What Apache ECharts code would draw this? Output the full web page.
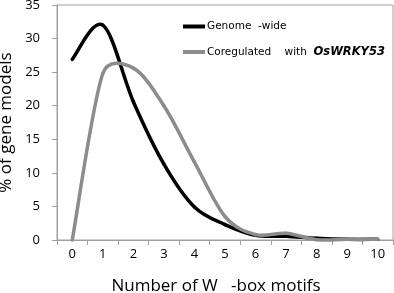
<!DOCTYPE html>
<html>
<head>
<meta charset="utf-8">
<script src="https://cdn.jsdelivr.net/npm/echarts@6/dist/echarts.min.js"></script>
<style>
html,body{margin:0;padding:0;background:#fff;}
#c{width:394px;height:293px;}
</style>
</head>
<body>
<div id="c"></div>
<script>
var categories = ['0','1','2','3','4','5','6','7','8','9','10'];
var genomeWide = [26.9, 32.0, 20.6, 11.3, 4.9, 2.3, 0.7, 0.55, 0.25, 0.1, 0.1];
var coregulated = [0, 24.8, 25.6, 20.0, 11.6, 3.5, 0.8, 1.0, 0.05, 0.1, 0.1];
var yTicks = {min: 0, max: 35, interval: 5};

var font = 'Open Sans';
var chart = echarts.init(document.getElementById('c'), null, {renderer: 'canvas'});

// Spreadsheet-style smoothed segment through library-computed coordinates
function smoothRenderer(values, color, width) {
  return function (params, api) {
    var i = params.dataIndex;
    if (i >= values.length - 1) return null;
    function pt(k) {
      k = Math.max(0, Math.min(values.length - 1, k));
      return api.coord([k, values[k]]);
    }
    function dist(a, b) { var dx = b[0] - a[0], dy = b[1] - a[1]; return Math.sqrt(dx * dx + dy * dy); }
    var p0 = pt(i - 1), p1 = pt(i), p2 = pt(i + 1), p3 = pt(i + 2);
    var d12 = dist(p1, p2), d02 = dist(p0, p2) || 1, d13 = dist(p1, p3) || 1;
    var f = Math.min(1 / 6, d12 / 2 / d02);
    var g = Math.min(1 / 6, d12 / 2 / d13);
    return {
      type: 'bezierCurve',
      shape: {
        x1: p1[0], y1: p1[1], x2: p2[0], y2: p2[1],
        cpx1: p1[0] + (p2[0] - p0[0]) * f, cpy1: p1[1] + (p2[1] - p0[1]) * f,
        cpx2: p2[0] - (p3[0] - p1[0]) * g, cpy2: p2[1] - (p3[1] - p1[1]) * g
      },
      style: {stroke: color, lineWidth: width, fill: null, lineCap: 'round'}
    };
  };
}

function toData(values) { return values.map(function (v, i) { return [i, v]; }); }

chart.setOption({
  animation: false,
  backgroundColor: '#fff',
  grid: {left: 57, right: 1, top: 5, bottom: 53, show: true, borderColor: '#a0a0a0', borderWidth: 1,
    containLabel: false, outerBoundsMode: 'none'},
  legend: {
    orient: 'vertical', left: 178, top: 16, itemGap: 14,
    icon: 'rect', itemWidth: 22, itemHeight: 4,
    textStyle: {fontFamily: 'DejaVu Sans', fontSize: 10.5, color: '#000', padding: [0, 0, 0, -3],
      rich: {b: {fontFamily: 'DejaVu Sans', fontWeight: 'bold', fontStyle: 'italic', fontSize: 11.5, color: '#000'}}},
    formatter: function (n) {
      if (n === 'Coregulated') return 'Coregulated    with  {b|OsWRKY53}';
      return 'Genome  -wide';
    },
    data: [
      {name: 'Genome-wide', itemStyle: {color: '#000'}},
      {name: 'Coregulated', itemStyle: {color: '#8c8c8c'}}
    ]
  },
  xAxis: {
    type: 'category', data: categories, boundaryGap: true,
    name: 'Number of W   -box motifs', nameLocation: 'middle', nameGap: 38,
    nameTextStyle: {fontFamily: font, fontSize: 17, color: '#000', padding: [0, 18, 0, 0]},
    axisLine: {lineStyle: {color: '#a0a0a0', width: 1}},
    axisTick: {show: true, length: 5, lineStyle: {color: '#a0a0a0'}},
    axisLabel: {fontFamily: font, fontSize: 13, color: '#000', margin: 8},
    splitLine: {show: false}
  },
  yAxis: {
    type: 'value', min: yTicks.min, max: yTicks.max, interval: yTicks.interval,
    name: '% of gene models', nameLocation: 'middle', nameGap: 42, nameRotate: 90,
    nameTextStyle: {fontFamily: font, fontSize: 17, color: '#000'},
    axisLine: {show: true, lineStyle: {color: '#a0a0a0', width: 1}},
    axisTick: {show: true, length: 5, lineStyle: {color: '#a0a0a0'}},
    axisLabel: {fontFamily: font, fontSize: 13, color: '#000', margin: 17},
    splitLine: {show: false}
  },
  series: [
    {name: 'Genome-wide', type: 'custom', data: toData(genomeWide), color: '#000',
      renderItem: smoothRenderer(genomeWide, '#000', 3.5), z: 2},
    {name: 'Coregulated', type: 'custom', data: toData(coregulated), color: '#8c8c8c',
      renderItem: smoothRenderer(coregulated, '#8c8c8c', 3.5), z: 3}
  ]
});
</script>
</body>
</html>
